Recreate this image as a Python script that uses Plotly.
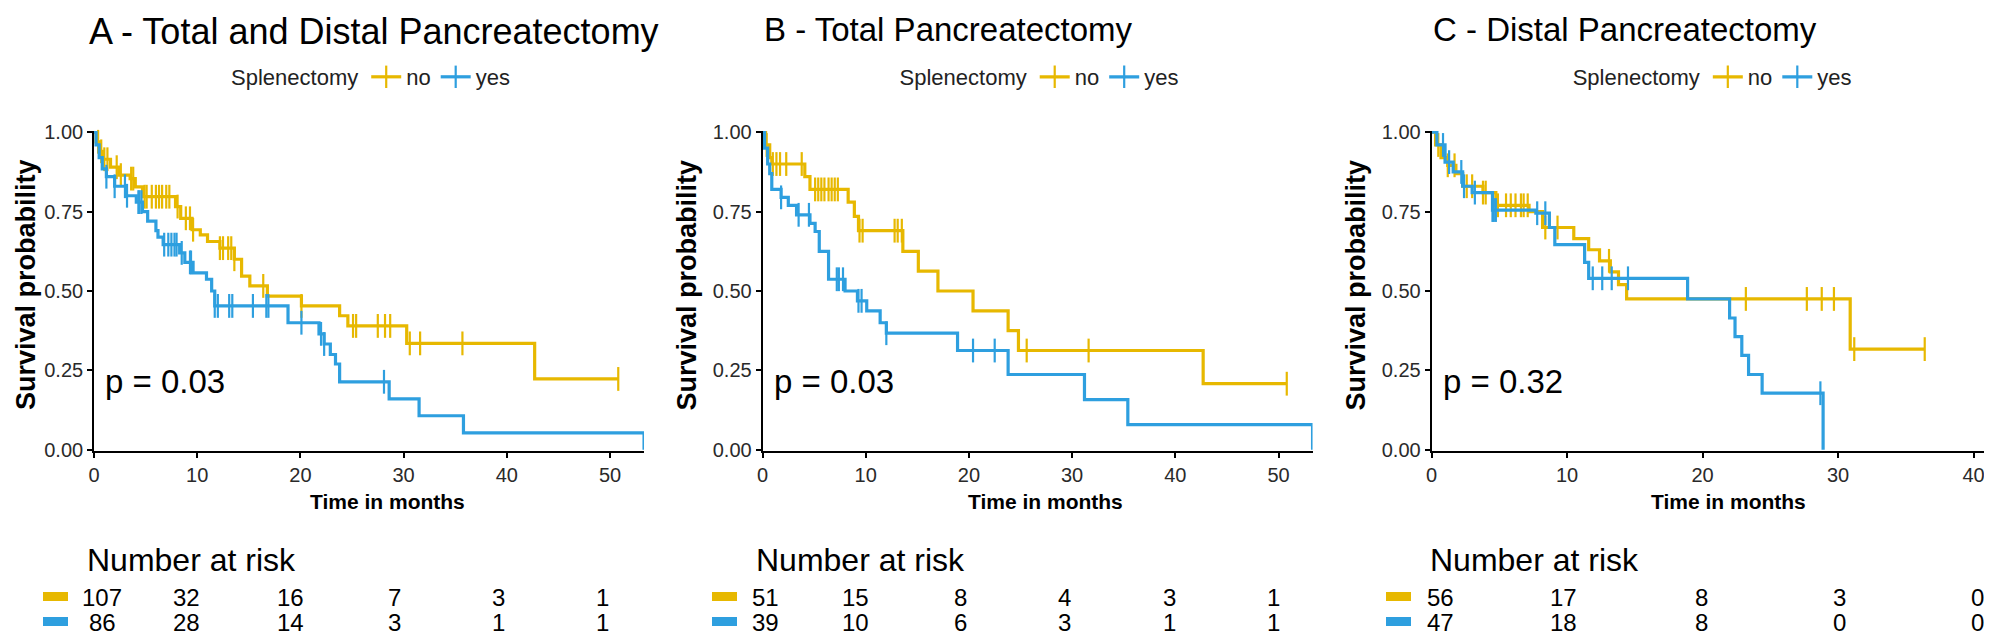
import numpy as np
import plotly.graph_objects as go

W, H = 1992, 636
YELLOW = "#E7B800"
BLUE = "#2E9FDF"
FONT = "Liberation Sans, Arial, sans-serif"

# ---------------- data: panel A (Total and Distal) ----------------
a_no_t = [0, 0.2, 0.5, 0.9, 1.6, 2.4, 3.5, 4.0, 4.7, 7.9, 8.4, 9.5, 10.3, 11.0, 12.2, 13.6, 14.3, 15.1, 16.8, 20.1, 23.8, 24.6, 30.3, 42.7]
a_no_s = [1.0, 0.97, 0.94, 0.915, 0.89, 0.865, 0.854, 0.828, 0.797, 0.766, 0.729, 0.693, 0.677, 0.656, 0.635, 0.60, 0.547, 0.516, 0.484, 0.453, 0.422, 0.39, 0.335, 0.223]
a_no_end = 50.8
a_no_cens = [0.4, 0.7, 1.0, 1.3, 2.2, 2.6, 3.6, 3.8, 4.9, 5.1, 5.6, 6.0, 6.3, 6.6, 7.0, 7.3, 8.1, 8.9, 9.3, 9.6,
             12.2, 12.5, 13.0, 13.3, 13.6, 16.4, 20.1, 25.1, 25.4, 27.5, 28.2, 28.7, 30.6, 31.6, 35.7, 50.8]

a_yes_t = [0, 0.2, 0.5, 0.8, 1.2, 2.0, 3.1, 4.1, 4.7, 5.2, 6.0, 6.2, 6.7, 8.3, 8.8, 9.6, 10.9, 11.4, 11.7, 18.8, 21.8, 22.3, 22.9, 23.4, 23.8, 28.6, 31.5, 35.8, 53.3]
a_yes_s = [1.0, 0.96, 0.92, 0.885, 0.86, 0.83, 0.80, 0.78, 0.75, 0.72, 0.69, 0.67, 0.646, 0.62, 0.59, 0.557, 0.537, 0.50, 0.453, 0.40, 0.365, 0.333, 0.30, 0.27, 0.214, 0.16, 0.107, 0.053, 0.0]
a_yes_end = 53.3
a_yes_cens = [1.2, 2.0, 3.0, 3.2, 4.3, 4.4, 4.6, 6.8, 7.2, 7.5, 7.8, 8.0, 8.5, 9.3, 9.4, 11.7, 12.0, 13.1, 13.4,
              15.4, 16.7, 16.9, 20.1, 22.0, 22.3, 28.1]

# ---------------- data: panel B (Total) ----------------
b_no_t = [0, 0.3, 0.7, 0.9, 4.1, 4.6, 8.3, 8.9, 9.3, 13.6, 15.1, 17.0, 20.4, 23.8, 24.8, 42.7]
b_no_s = [1.0, 0.96, 0.92, 0.90, 0.86, 0.82, 0.78, 0.735, 0.69, 0.625, 0.5625, 0.50, 0.4375, 0.375, 0.3125, 0.208]
b_no_end = 50.8
b_no_cens = [0.4, 1.0, 1.35, 1.7, 2.3, 3.8, 5.1, 5.4, 5.7, 6.0, 6.4, 6.7, 7.0, 7.3, 9.4, 9.7, 12.8, 13.1, 13.5,
             25.6, 31.6, 50.8]

b_yes_t = [0, 0.2, 0.5, 0.7, 0.9, 1.8, 2.5, 3.3, 4.6, 5.1, 5.5, 6.4, 8.0, 9.2, 10.1, 11.4, 12.0, 18.9, 23.8, 31.2, 35.4, 53.3]
b_yes_s = [1.0, 0.95, 0.90, 0.87, 0.82, 0.795, 0.77, 0.74, 0.713, 0.6875, 0.625, 0.537, 0.50, 0.469, 0.4375, 0.40, 0.367, 0.3125, 0.237, 0.158, 0.079, 0.0]
b_yes_end = 53.3
b_yes_cens = [1.8, 3.5, 4.5, 7.2, 7.4, 7.8, 9.3, 9.6, 12.0, 20.4, 22.5]

# ---------------- data: panel C (Distal) ----------------
c_no_t = [0, 0.3, 0.7, 1.2, 1.8, 2.3, 3.8, 4.75, 7.2, 8.2, 10.5, 11.6, 12.4, 13.2, 13.8, 14.4, 30.9]
c_no_s = [1.0, 0.96, 0.92, 0.896, 0.87, 0.83, 0.81, 0.77, 0.75, 0.70, 0.665, 0.63, 0.595, 0.56, 0.52, 0.475, 0.317]
c_no_end = 36.4
c_no_cens = [0.5, 1.2, 1.7, 2.6, 3.0, 3.8, 4.0, 4.9, 5.5, 5.85, 6.2, 6.6, 6.8, 7.1, 8.4, 9.3,
             13.1, 23.2, 27.7, 28.8, 29.7, 31.2, 36.4]

c_yes_t = [0, 0.4, 1.0, 1.6, 2.3, 3.0, 4.5, 7.7, 8.7, 9.1, 11.3, 11.6, 18.9, 22.0, 22.4, 22.9, 23.4, 24.4, 28.9]
c_yes_s = [1.0, 0.96, 0.906, 0.875, 0.83, 0.81, 0.755, 0.745, 0.70, 0.646, 0.59, 0.54, 0.475, 0.415, 0.356, 0.297, 0.237, 0.178, 0.0]
c_yes_end = 28.9
c_yes_cens = [0.85, 1.3, 2.2, 2.4, 3.2, 4.5, 4.6, 4.75, 7.8, 8.4, 11.9, 12.6, 13.3, 14.5, 28.7]

# ---------------- risk tables ----------------
ab_risk_times = [0, 10, 20, 30, 40, 50]
c_risk_times = [0, 10, 20, 30, 40]
a_risk_no = [107, 32, 16, 7, 3, 1]
a_risk_yes = [86, 28, 14, 3, 1, 1]
b_risk_no = [51, 15, 8, 4, 3, 1]
b_risk_yes = [39, 10, 6, 3, 1, 1]
c_risk_no = [56, 17, 8, 3, 0]
c_risk_yes = [47, 18, 8, 0, 0]

titles = ["A - Total and Distal Pancreatectomy", "B - Total Pancreatectomy", "C - Distal Pancreatectomy"]
pvals = ["p = 0.03", "p = 0.03", "p = 0.32"]
groups = ["no", "yes"]
x_ticks_ab = [0, 10, 20, 30, 40, 50]
x_ticks_c = [0, 10, 20, 30, 40]
y_ticks = [0, 0.25, 0.5, 0.75, 1.0]

panels = [
    dict(no=(a_no_t, a_no_s, a_no_end, a_no_cens), yes=(a_yes_t, a_yes_s, a_yes_end, a_yes_cens),
         xmax=53.3, ticks=x_ticks_ab, rt=ab_risk_times, rno=a_risk_no, ryes=a_risk_yes),
    dict(no=(b_no_t, b_no_s, b_no_end, b_no_cens), yes=(b_yes_t, b_yes_s, b_yes_end, b_yes_cens),
         xmax=53.3, ticks=x_ticks_ab, rt=ab_risk_times, rno=b_risk_no, ryes=b_risk_yes),
    dict(no=(c_no_t, c_no_s, c_no_end, c_no_cens), yes=(c_yes_t, c_yes_s, c_yes_end, c_yes_cens),
         xmax=41.2, ticks=x_ticks_c, rt=c_risk_times, rno=c_risk_no, ryes=c_risk_yes),
]

# ---------------- layout geometry (pixels) ----------------
axis_left_px = [86.0, 754.5, 1423.5]
px_per_month = [10.32, 10.32, 13.55]
table0_px = [74.0, 743.0, 1417.0]
table_px_per_month = [10.41, 10.45, 13.8]
first_col_shift = [20, 14, 15]
title_size = [36, 33, 33]
title_dx = [-7, -1, -1]
title_yc = [24, 22, 22]
ytitle_xc = [18, 754.5 - 76, 1423.5 - 76]
xtitle_dx = [18, 8, 18]
plot_top_px, plot_bot_px = 123, 443

def px2x(p):
    return p / W

def px2y(p):
    return 1 - p / H

def step_at(t, s, c):
    t = np.asarray(t); s = np.asarray(s)
    idx = np.searchsorted(t, np.asarray(c), side="right") - 1
    return s[np.clip(idx, 0, len(s) - 1)]

fig = go.Figure()
layout = dict(
    width=W, height=H, margin=dict(l=0, r=0, t=0, b=0),
    paper_bgcolor="white", plot_bgcolor="white",
    font=dict(family=FONT, color="#222222"),
    showlegend=True,
)
annotations = []
shapes = []

for i, p in enumerate(panels):
    k = "" if i == 0 else str(i + 1)
    xa, ya = "x" + k, "y" + k
    leg = "legend" + k
    x0 = axis_left_px[i]
    x1 = x0 + p["xmax"] * px_per_month[i]
    layout["xaxis" + k] = dict(
        domain=[px2x(x0), px2x(x1)], range=[0, p["xmax"]], anchor=ya,
        tickvals=p["ticks"], ticktext=[str(v) for v in p["ticks"]],
        showline=True, linecolor="black", linewidth=1.6, ticks="outside", ticklen=5,
        tickwidth=1.6, tickcolor="black", showgrid=False, zeroline=False,
        tickfont=dict(size=20, color="#2a2a2a"),
        automargin=False, fixedrange=True,
    )
    layout["yaxis" + k] = dict(
        domain=[px2y(plot_bot_px), px2y(plot_top_px)], range=[-0.004, 1.004], anchor=xa,
        tickvals=y_ticks, ticktext=["%.2f" % v for v in y_ticks],
        showline=True, linecolor="black", linewidth=1.6, ticks="outside", ticklen=5,
        tickwidth=1.6, tickcolor="black", showgrid=False, zeroline=False,
        tickfont=dict(size=20, color="#2a2a2a"),
        automargin=False, fixedrange=True,
    )
    # axis titles
    annotations.append(dict(
        text="<b>Survival probability</b>", xref="paper", yref="paper",
        x=px2x(ytitle_xc[i]), y=px2y((plot_top_px + plot_bot_px) / 2 - 6), textangle=-90,
        xanchor="center", yanchor="middle", showarrow=False,
        font=dict(size=27, color="black", family=FONT),
    ))
    annotations.append(dict(
        text="<b>Time in months</b>", xref="paper", yref="paper",
        x=px2x((x0 + x1) / 2 + xtitle_dx[i]), y=px2y(493),
        xanchor="center", yanchor="middle", showarrow=False,
        font=dict(size=21, color="black", family=FONT),
    ))

    for g, col in zip(groups, [YELLOW, BLUE]):
        t, s, end, cens = p[g]
        fig.add_trace(go.Scatter(
            x=list(t) + [end], y=list(s) + [s[-1]], mode="lines",
            line=dict(color=col, width=3.2, shape="hv"),
            xaxis=xa, yaxis=ya, showlegend=False, hoverinfo="skip",
        ))
        fig.add_trace(go.Scatter(
            x=cens, y=step_at(t, s, cens), mode="markers",
            marker=dict(symbol="line-ns", size=17, line=dict(color=col, width=2.2)),
            xaxis=xa, yaxis=ya, showlegend=False, hoverinfo="skip", cliponaxis=False,
        ))
        # legend key
        fig.add_trace(go.Scatter(
            x=[None], y=[None], mode="lines+markers", name=g,
            line=dict(color=col, width=3.2),
            marker=dict(symbol="line-ns", size=18, line=dict(color=col, width=2.2)),
            xaxis=xa, yaxis=ya, legend=leg, showlegend=True,
        ))

    layout[leg] = dict(
        orientation="h", x=px2x((x0 + x1) / 2 + 3), xanchor="center",
        y=px2y(69), yanchor="middle", bgcolor="rgba(0,0,0,0)",
        font=dict(size=22, color="#222222"),
        title=dict(text="Splenectomy", side="left", font=dict(size=22, color="#222222")),
        itemwidth=30, traceorder="normal",
    )

    # panel title
    annotations.append(dict(
        text=titles[i], xref="paper", yref="paper", x=px2x(x0 + title_dx[i]), y=px2y(title_yc[i]),
        xanchor="left", yanchor="middle", showarrow=False,
        font=dict(size=title_size[i], color="black", family=FONT),
    ))
    # p-value
    annotations.append(dict(
        text=pvals[i], xref=xa, yref=ya, x=0, y=0.215, xanchor="left", yanchor="middle",
        xshift=9, showarrow=False, font=dict(size=33, color="black", family=FONT),
    ))

    # risk table axis
    tk = str(i + 4)
    t0 = table0_px[i]
    t1 = min(t0 + p["xmax"] * table_px_per_month[i], W - 1)
    layout["xaxis" + tk] = dict(domain=[px2x(t0), px2x(t1)], range=[0, (t1 - t0) / table_px_per_month[i]],
                                 anchor="y" + tk, visible=False, fixedrange=True)
    layout["yaxis" + tk] = dict(domain=[0, 0.12], range=[0, 1], anchor="x" + tk,
                                 visible=False, fixedrange=True)
    fig.add_trace(go.Scatter(x=[None], y=[None], xaxis="x" + tk, yaxis="y" + tk,
                             showlegend=False, hoverinfo="skip"))
    annotations.append(dict(
        text="Number at risk", xref="paper", yref="paper", x=px2x(t0 + 3), y=px2y(552),
        xanchor="left", yanchor="middle", showarrow=False,
        font=dict(size=32, color="black", family=FONT),
    ))
    for row_vals, col, ypx in [(p["rno"], YELLOW, 589), (p["ryes"], BLUE, 614)]:
        shapes.append(dict(type="rect", xref="paper", yref="paper",
                           x0=px2x(t0 - 39), x1=px2x(t0 - 14),
                           y0=px2y(ypx - 5), y1=px2y(ypx + 4),
                           fillcolor=col, line=dict(width=0)))
        for j, (tt, n) in enumerate(zip(p["rt"], row_vals)):
            annotations.append(dict(
                text=str(n), xref="x" + tk, yref="paper", x=tt, y=px2y(ypx),
                xanchor="center", yanchor="middle", showarrow=False,
                xshift=first_col_shift[i] if j == 0 else 0,
                font=dict(size=24, color="black", family=FONT),
            ))

layout["annotations"] = annotations
layout["shapes"] = shapes
fig.update_layout(**layout)
fig.write_html("out.html")
